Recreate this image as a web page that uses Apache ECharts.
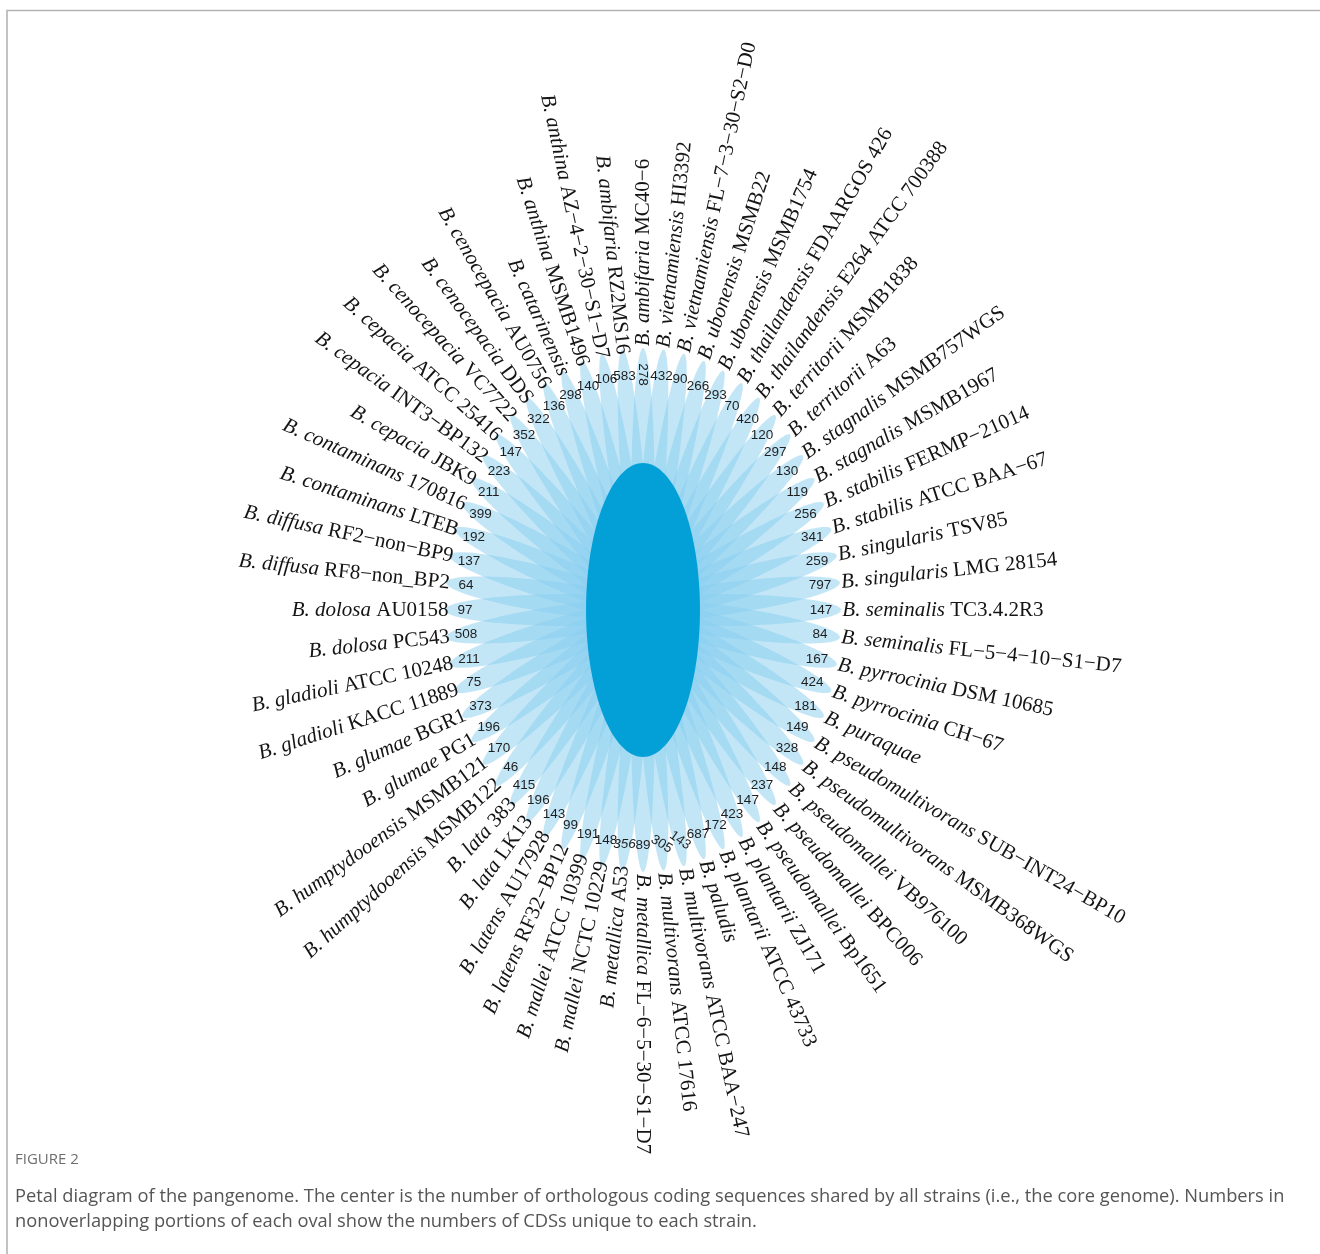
<!DOCTYPE html>
<html>
<head>
<meta charset="utf-8">
<script src="https://cdn.jsdelivr.net/npm/echarts@6/dist/echarts.min.js"></script>
<style>
  html, body { margin: 0; padding: 0; background: #ffffff; }
  #chart { width: 1320px; height: 1254px; }
</style>
</head>
<body>
<div id="chart"></div>
<script>
// Strains, in petal order (counter-clockwise from the top petal)
const strains = [
  'B. ambifaria MC40−6', 'B. ambifaria RZ2MS16', 'B. anthina AZ−4−2−30−S1−D7', 'B. anthina MSMB1496',
  'B. catarinensis', 'B. cenocepacia AU0756', 'B. cenocepacia DDS', 'B. cenocepacia VC7722',
  'B. cepacia ATCC 25416', 'B. cepacia INT3−BP132', 'B. cepacia JBK9', 'B. contaminans 170816',
  'B. contaminans LTEB', 'B. diffusa RF2−non−BP9', 'B. diffusa RF8−non_BP2', 'B. dolosa AU0158',
  'B. dolosa PC543', 'B. gladioli ATCC 10248', 'B. gladioli KACC 11889', 'B. glumae BGR1',
  'B. glumae PG1', 'B. humptydooensis MSMB121', 'B. humptydooensis MSMB122', 'B. lata 383',
  'B. lata LK13', 'B. latens AU17928', 'B. latens RF32−BP12', 'B. mallei ATCC 10399',
  'B. mallei NCTC 10229', 'B. metallica A53', 'B. metallica FL−6−5−30−S1−D7', 'B. multivorans ATCC 17616',
  'B. multivorans ATCC BAA−247', 'B. paludis', 'B. plantarii ATCC 43733', 'B. plantarii ZJ171',
  'B. pseudomallei Bp1651', 'B. pseudomallei BPC006', 'B. pseudomallei VB976100', 'B. pseudomultivorans MSMB368WGS',
  'B. pseudomultivorans SUB−INT24−BP10', 'B. puraquae', 'B. pyrrocinia CH−67', 'B. pyrrocinia DSM 10685',
  'B. seminalis FL−5−4−10−S1−D7', 'B. seminalis TC3.4.2R3', 'B. singularis LMG 28154', 'B. singularis TSV85',
  'B. stabilis ATCC BAA−67', 'B. stabilis FERMP−21014', 'B. stagnalis MSMB1967', 'B. stagnalis MSMB757WGS',
  'B. territorii A63', 'B. territorii MSMB1838', 'B. thailandensis E264 ATCC 700388', 'B. thailandensis FDAARGOS 426',
  'B. ubonensis MSMB1754', 'B. ubonensis MSMB22', 'B. vietnamiensis FL−7−3−30−S2−D0', 'B. vietnamiensis HI3392'
];

// CDSs unique to each strain (same order as strains)
const uniqueCds = [
  278, 583, 106, 140, 298, 136, 322, 352, 147, 223, 211, 399, 192, 137, 64, 97,
  508, 211, 75, 373, 196, 170, 46, 415, 196, 143, 99, 191, 148, 356, 89, 305,
  143, 687, 172, 423, 147, 237, 148, 328, 149, 181, 424, 167, 84, 147, 797, 259,
  341, 256, 119, 130, 297, 120, 420, 70, 293, 266, 90, 432
];

const captionTitle = 'FIGURE 2';
const captionLines = [
  'Petal diagram of the pangenome. The center is the number of orthologous coding sequences shared by all strains (i.e., the core genome). Numbers in',
  'nonoverlapping portions of each oval show the numbers of CDSs unique to each strain.'
];

// ---- layout of the flower (data units on a 0..10 square) ----
const N = strains.length;
const STEP = 360 / N;
const START = 90;
const CX = 5, CY = 5;
const PETAL_OFFSET = 1.0, PETAL_A = 1.78, PETAL_B = 0.17;
const CORE_A = 0.80, CORE_B = 1.56;
const NUM_R = 2.5;
const LABEL_R_OUT = 2.8;   // names reading outward from the petal
const LABEL_R_IN = 2.73;   // names reading inward, ending at the petal

// a few count labels sit tilted / slanted in the figure
const numberTilt = { 0: -90, 31: -32, 32: -35 };
const numberSlant = { 29: true };

const SERIF = '"Liberation Serif", "Times New Roman", serif';
const SANS = '"Liberation Sans", Arial, sans-serif';
const CAPTION_FONT = '"Open Sans", Lato, sans-serif';

function rad(d) { return d * Math.PI / 180; }
function angleOf(i) { return START + STEP * i; }

function ellipsePoints(api, cx, cy, a, b, rotDeg) {
  const pts = [];
  const c = Math.cos(rad(rotDeg)), s = Math.sin(rad(rotDeg));
  const K = 144;
  for (let k = 0; k < K; k++) {
    const t = 2 * Math.PI * k / K;
    const ex = a * Math.cos(t), ey = b * Math.sin(t);
    pts.push(api.coord([cx + ex * c - ey * s, cy + ex * s + ey * c]));
  }
  return pts;
}

const idxData = strains.map((s, i) => [i, uniqueCds[i]]);

const chart = echarts.init(document.getElementById('chart'), null, { width: 1320, height: 1254 });

const option = {
  animation: false,
  backgroundColor: '#ffffff',
  grid: { left: 287, top: 139, width: 712, height: 942, containLabel: false },
  xAxis: { type: 'value', min: 0, max: 10, show: false },
  yAxis: { type: 'value', min: 0, max: 10, show: false },
  graphic: [
    {
      type: 'rect', silent: true, z: 0,
      shape: { x: 7, y: 10.5, width: 1400, height: 1400 },
      style: { fill: 'none', stroke: '#b4b4b4', lineWidth: 1.6 }
    },
    {
      type: 'text', left: 15, top: 1152, silent: true,
      style: { text: captionTitle, fontFamily: CAPTION_FONT, fontSize: 15, fill: '#6e6e6e' }
    },
    {
      type: 'text', left: 15, top: 1188, silent: true,
      style: { text: captionLines[0], fontFamily: CAPTION_FONT, fontSize: 18.3, fill: '#555555' }
    },
    {
      type: 'text', left: 15, top: 1213, silent: true,
      style: { text: captionLines[1], fontFamily: CAPTION_FONT, fontSize: 18.3, fill: '#555555' }
    }
  ],
  series: [
    {
      // one translucent oval per strain
      type: 'custom', name: 'petals', coordinateSystem: 'cartesian2d', clip: false, silent: true, z: 1,
      data: idxData,
      renderItem: function (params, api) {
        const i = api.value(0);
        const ang = angleOf(i);
        const px = CX + PETAL_OFFSET * Math.cos(rad(ang));
        const py = CY + PETAL_OFFSET * Math.sin(rad(ang));
        return {
          type: 'polygon',
          shape: { points: ellipsePoints(api, px, py, PETAL_A, PETAL_B, ang) },
          style: { fill: 'rgba(135, 206, 240, 0.5)', stroke: null }
        };
      }
    },
    {
      // shared core in the middle
      type: 'custom', name: 'core', coordinateSystem: 'cartesian2d', clip: false, silent: true, z: 2,
      data: [[CX, CY]],
      renderItem: function (params, api) {
        return {
          type: 'polygon',
          shape: { points: ellipsePoints(api, api.value(0), api.value(1), CORE_A, CORE_B, 0) },
          style: { fill: '#03a0d8', stroke: null }
        };
      }
    },
    {
      // unique CDS counts on each petal
      type: 'custom', name: 'counts', coordinateSystem: 'cartesian2d', clip: false, silent: true, z: 3,
      data: idxData,
      renderItem: function (params, api) {
        const i = api.value(0);
        const ang = angleOf(i);
        const p = api.coord([CX + NUM_R * Math.cos(rad(ang)), CY + NUM_R * Math.sin(rad(ang))]);
        return {
          type: 'text',
          x: p[0], y: p[1],
          rotation: rad(numberTilt[i] || 0),
          style: {
            text: String(api.value(1)),
            fontFamily: SANS, fontSize: 13.5,
            fontStyle: numberSlant[i] ? 'italic' : 'normal',
            fill: '#1e1e1e',
            align: 'center', verticalAlign: 'middle',
            textAlign: 'center', textVerticalAlign: 'middle'
          }
        };
      }
    },
    {
      // strain names around the flower
      type: 'custom', name: 'strains', coordinateSystem: 'cartesian2d', clip: false, silent: true, z: 3,
      data: idxData,
      renderItem: function (params, api) {
        const i = api.value(0);
        const ang = angleOf(i);
        const off = STEP * i;
        const leftSide = off > 0 && off < 180;
        const r = leftSide ? LABEL_R_IN : LABEL_R_OUT;
        const p = api.coord([CX + r * Math.cos(rad(ang)), CY + r * Math.sin(rad(ang))]);
        const tokens = strains[i].split(' ');
        const species = tokens.slice(0, 2).join(' ');
        const rest = tokens.slice(2).join(' ');
        const text = '{i|' + species + '}' + (rest ? ' ' + rest : '');
        return {
          type: 'text',
          x: p[0], y: p[1],
          rotation: rad(leftSide ? ang - 180 : ang),
          style: {
            text: text,
            rich: {
              i: { fontFamily: SERIF, fontSize: 21, fontStyle: 'italic', fill: '#141414' }
            },
            fontFamily: SERIF, fontSize: 21, fill: '#141414',
            align: leftSide ? 'right' : 'left', verticalAlign: 'middle',
            textAlign: leftSide ? 'right' : 'left', textVerticalAlign: 'middle'
          }
        };
      }
    }
  ]
};

chart.setOption(option);
</script>
</body>
</html>
